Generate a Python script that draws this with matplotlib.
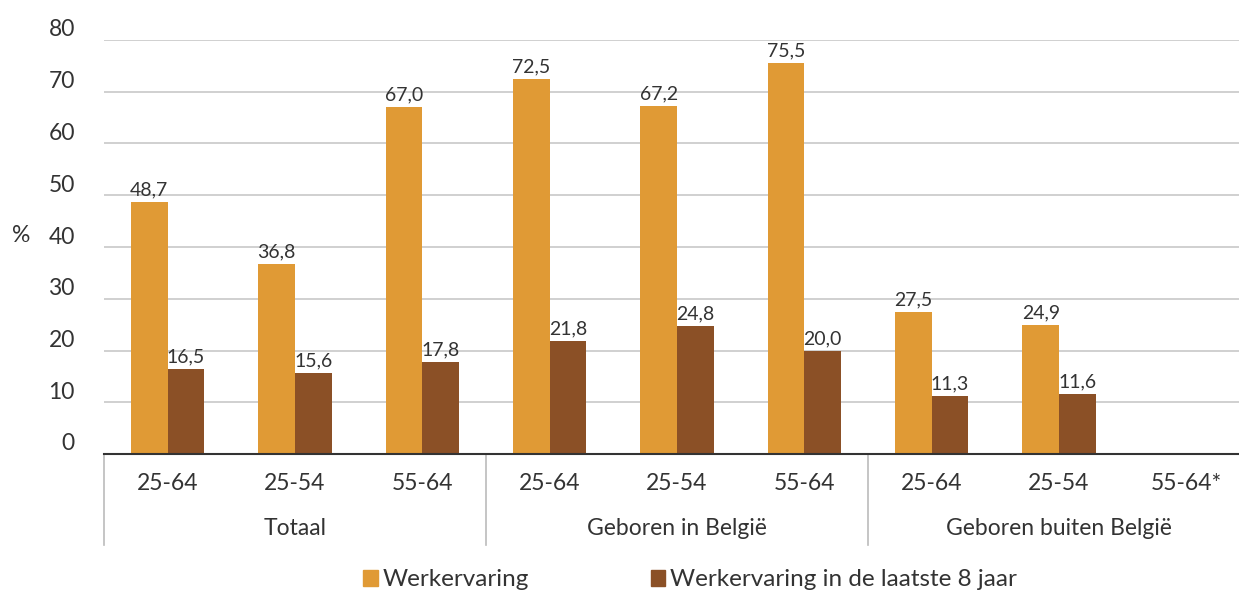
import matplotlib
matplotlib.use("Agg")
import matplotlib.pyplot as plt
import matplotlib.transforms as mtransforms
from matplotlib.patches import Patch
import numpy as np

#------------------------------------------------------------------------------
# Data
#------------------------------------------------------------------------------

ages = ["25-64", "25-54", "55-64", "25-64", "25-54", "55-64", "25-64", "25-54", "55-64*"]
groups = ["Totaal", "Geboren in België", "Geboren buiten België"]

werkervaring = [48.7, 36.8, 67.0, 72.5, 67.2, 75.5, 27.5, 24.9, np.nan]
laatste8 = [16.5, 15.6, 17.8, 21.8, 24.8, 20.0, 11.3, 11.6, np.nan]

series_names = ["Werkervaring", "Werkervaring in de laatste 8 jaar"]
yticks = [0, 10, 20, 30, 40, 50, 60, 70, 80]

#------------------------------------------------------------------------------
# Plot
#------------------------------------------------------------------------------

plt.rcParams['font.family'] = ['Lato', 'DejaVu Sans']

ORANGE = "#E09A35"
BROWN = "#8B5026"
TXT = "#333333"
FS = 16.5

W, H = 1239, 591
fig = plt.figure(figsize=(W / 100, H / 100), dpi=100)
ax = fig.add_axes([104 / W, (H - 454) / H, (1250 - 104) / W, 414 / H])

x = np.arange(len(ages))
bw = 0.287

b1 = ax.bar(x - bw / 2, werkervaring, bw, color=ORANGE)
b2 = ax.bar(x + bw / 2, laatste8, bw, color=BROWN)

def fmt(v):
    return ("%.1f" % v).replace(".", ",")

for bars, vals in ((b1, werkervaring), (b2, laatste8)):
    for b, v in zip(bars, vals):
        if np.isnan(v):
            continue
        ax.annotate(fmt(v), xy=(b.get_x() + b.get_width() / 2, v),
                    xytext=(0, 2.5), textcoords="offset points",
                    ha="center", va="bottom", fontsize=14, color=TXT)

ax.set_xlim(-0.5, len(ages) - 0.5)
ax.set_ylim(0, 80)

ax.set_yticks(yticks)
ax.set_yticklabels([str(t) for t in yticks])
ax.tick_params(axis="y", length=0, pad=21, labelsize=FS, labelcolor=TXT)
off = mtransforms.ScaledTranslation(0, 12 / 100, fig.dpi_scale_trans)
for lbl in ax.get_yticklabels():
    lbl.set_transform(lbl.get_transform() + off)

ax.set_xticks([])
ax.grid(axis="y", color="#C8C8C8", linewidth=1.2)
ax.set_axisbelow(True)

for s in ("top", "right", "left"):
    ax.spines[s].set_visible(False)
ax.spines["bottom"].set_color("#333333")
ax.spines["bottom"].set_linewidth(1.5)

ax.set_ylabel("%", rotation=0, fontsize=FS, color=TXT, va="center", ha="center")
ax.yaxis.set_label_coords(-0.072, 0.5 + 12 / 414)

# category and group labels below the axis
trans = mtransforms.blended_transform_factory(ax.transData, ax.transAxes)
for i, a in enumerate(ages):
    ax.text(i, -0.072, a, transform=trans, ha="center", va="center",
            fontsize=FS, color=TXT)
for g, name in enumerate(groups):
    ax.text(g * 3 + 1, -0.179, name, transform=trans, ha="center", va="center",
            fontsize=FS, color=TXT)
for sep in [-0.5, 2.5, 5.5, 8.5]:
    ax.plot([sep, sep], [0, -0.22], transform=trans, color="#BBBBBB",
            linewidth=1.2, clip_on=False)

handles = [Patch(color=ORANGE), Patch(color=BROWN)]
fig.legend(handles, series_names, loc="center", bbox_to_anchor=(690 / W, 11 / H),
           ncol=2, frameon=False, fontsize=17.5, handlelength=0.6, handleheight=0.6,
           handletextpad=0.2, columnspacing=5.0, labelcolor=TXT)

fig.savefig("out.png", dpi=100)
